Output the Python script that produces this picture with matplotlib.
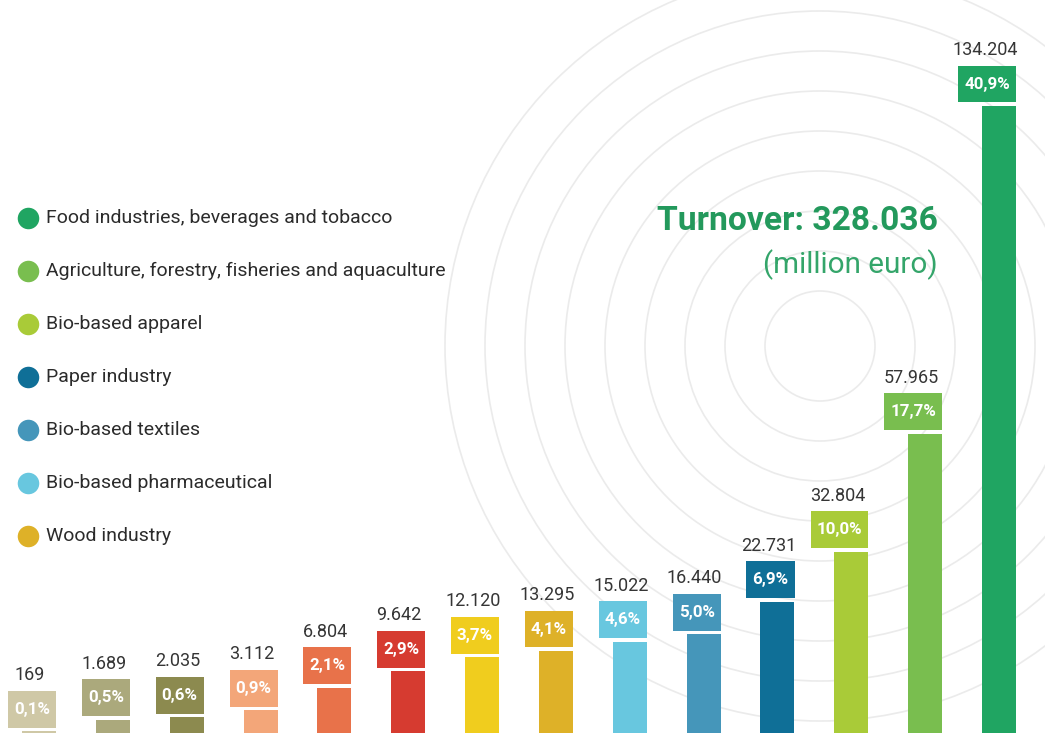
import matplotlib
matplotlib.use("Agg")
import matplotlib.pyplot as plt
import numpy as np
from matplotlib.patches import Circle
from matplotlib.path import Path

# Turnover by sector (million euro), sorted ascending
values = [169, 1689, 2035, 3112, 6804, 9642, 12120, 13295, 15022, 16440,
          22731, 32804, 57965, 134204]
shares = ["0,1%", "0,5%", "0,6%", "0,9%", "2,1%", "2,9%", "3,7%", "4,1%",
          "4,6%", "5,0%", "6,9%", "10,0%", "17,7%", "40,9%"]
bar_colors = ["#cfc8a6", "#aba97c", "#8c8a4f", "#f3a679", "#e8724a",
              "#d63b30", "#f0cd1e", "#deb128", "#68c7df", "#4596ba",
              "#0f6f97", "#a9cb38", "#79be4f", "#20a562"]

legend_labels = ["Food industries, beverages and tobacco",
                 "Agriculture, forestry, fisheries and aquaculture",
                 "Bio-based apparel",
                 "Paper industry",
                 "Bio-based textiles",
                 "Bio-based pharmaceutical",
                 "Wood industry"]
legend_colors = ["#20a562", "#79be4f", "#a9cb38", "#0f6f97", "#4596ba",
                 "#68c7df", "#deb128"]

total_label = "Turnover: 328.036"
unit_label = "(million euro)"

W, H = 1045, 733
plt.rcParams["font.family"] = ["Roboto", "DejaVu Sans"]


class PadBox:
    """Rectangular text box with separate horizontal and vertical padding."""

    def __init__(self, pad_x, pad_y):
        self.pad_x = pad_x
        self.pad_y = pad_y

    def __call__(self, x0, y0, width, height, mutation_size):
        dx = self.pad_x * mutation_size
        dy = self.pad_y * mutation_size
        x0, y0 = x0 - dx, y0 - dy
        x1, y1 = x0 + width + 2 * dx, y0 + height + 2 * dy
        return Path([(x0, y0), (x1, y0), (x1, y1), (x0, y1), (x0, y0)],
                    [Path.MOVETO, Path.LINETO, Path.LINETO, Path.LINETO,
                     Path.CLOSEPOLY])


fig = plt.figure(figsize=(W / 100, H / 100), dpi=100)
fig.patch.set_facecolor("white")

# Decorative concentric rings, drawn in pixel space behind everything
bg = fig.add_axes([0, 0, 1, 1], zorder=0)
bg.set_xlim(0, W)
bg.set_ylim(H, 0)
bg.set_aspect("equal", adjustable="box")
bg.axis("off")
for r in np.arange(55, 400, 40):
    bg.add_patch(Circle((820, 346), r, fill=False, ec="#ebebeb", lw=1.2))

# Bar axes: compressed power scale so the small sectors remain visible
p = 0.88
fwd = lambda v: np.sign(v) * np.abs(v) ** p
inv = lambda v: np.sign(v) * np.abs(v) ** (1 / p)

ax = fig.add_axes([0, 0, 1, 1], zorder=1)
ax.patch.set_alpha(0)
ax.set_yscale("function", functions=(fwd, inv))
x = np.arange(len(values))
step = 73.85
ax.set_xlim(-39 / step, (W - 39) / step)
ax.set_ylim(0, 160300)
bw = 34 / step
ax.bar(x, values, width=bw, color=bar_colors, zorder=2)
ax.axis("off")

pct_fs = 12.2
pad_x_px = 6.0
for xi, v, s, c in zip(x, values, shares, bar_colors):
    right = xi + bw / 2
    ax.annotate(s, xy=(right, v), xytext=(-pad_x_px, 22),
                textcoords="offset pixels", ha="right", va="center",
                fontsize=pct_fs, fontweight="bold", color="white",
                bbox=dict(boxstyle=PadBox(pad_x_px / (pct_fs * 100 / 72), 0.64),
                          fc=c, ec="none"),
                zorder=3)
    dx_label = -26 if len(s) <= 4 else -31
    ax.annotate(f"{v:,}".replace(",", "."), xy=(right, v),
                xytext=(dx_label, 51), textcoords="offset pixels",
                ha="center", va="baseline", fontsize=13, color="#353535",
                zorder=3)

# Legend: coloured dots with sector names
for i, (lab, col) in enumerate(zip(legend_labels, legend_colors)):
    yc = 1 - (218 + 53 * i) / H
    ax.scatter([28 / W], [yc], s=15.5 ** 2, color=col, transform=ax.transAxes,
               clip_on=False, zorder=3, linewidths=0)
    ax.text(46 / W, yc, lab, transform=ax.transAxes, ha="left", va="center",
            fontsize=14, color="#2b2b2b", zorder=3)

fig.text(938 / W, 1 - 221 / H, total_label, ha="right", va="center",
         fontsize=24.2, fontweight="bold", color="#23995c", zorder=4)
fig.text(938 / W, 1 - 265 / H, unit_label, ha="right", va="center",
         fontsize=21.3, color="#34a56a", zorder=4)

fig.savefig("out.png", dpi=100, facecolor="white")
